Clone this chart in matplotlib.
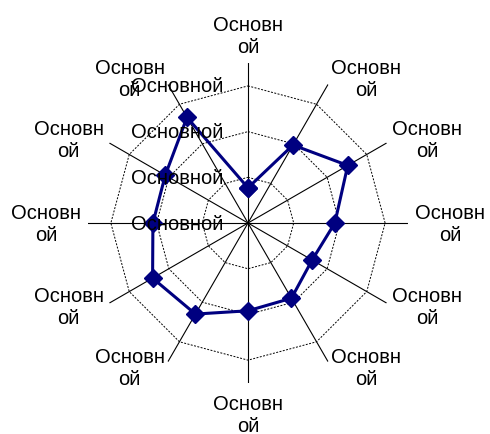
import numpy as np
import matplotlib
matplotlib.use("Agg")
import matplotlib.pyplot as plt

plt.rcParams['font.family'] = ['Liberation Sans', 'DejaVu Sans']

# categories clockwise from the top
categories = ["Основн\nой"] * 12
values = [0.77, 1.97, 2.52, 1.90, 1.62, 1.90, 1.92, 2.30, 2.41, 2.08, 2.09, 2.67]
ring_levels = [1, 2, 3]
ring_labels = ["Основной", "Основной", "Основной", "Основной"]  # for 0..3

n = len(categories)
theta = np.arange(n) * 2 * np.pi / n
r_max = 3.5

fig = plt.figure(figsize=(4.9, 4.35), dpi=100)
ax = fig.add_axes([0.1796, 0.1172, 0.653, 0.7356], projection='polar')
ax.set_theta_zero_location('N')
ax.set_theta_direction(-1)
ax.set_ylim(0, r_max)
ax.grid(False)
ax.spines['polar'].set_visible(False)
ax.set_xticks([])
ax.set_yticks([])
ax.patch.set_visible(False)

# spokes
for th in theta:
    ax.plot([th, th], [0, r_max], color='black', lw=0.8, zorder=1)

# dotted rings (polygons)
th_closed = np.append(theta, theta[0])
for lvl in ring_levels:
    ax.plot(th_closed, [lvl] * (n + 1), color='black', lw=0.7,
            linestyle=(0, (2, 1.5)), zorder=1)

# data series
vals_closed = values + values[:1]
ax.plot(th_closed, vals_closed, color='#000080', lw=2.2, marker='D',
        markersize=9, zorder=2)

# category labels
r_lab = 3.65
for th, lab in zip(theta, categories):
    c, s = np.sin(th), np.cos(th)
    r = r_lab
    if abs(c) < 0.01:
        ha = 'center'
        if s > 0:
            va = 'bottom'
        else:
            va = 'top'
            r = r_lab + 0.08
    else:
        ha = 'left' if c > 0 else 'right'
        va = 'center'
    ax.text(th, r, lab, ha=ha, va=va, multialignment='center',
            fontsize=14.5, linespacing=1.2, clip_on=False)

# radial value labels
for lvl, lab in enumerate(ring_labels):
    ax.annotate(lab, xy=(0, lvl), xytext=(-25, 0), textcoords='offset pixels',
                ha='right', va='center', fontsize=14.5, zorder=4)

fig.savefig("out.png", dpi=100)
